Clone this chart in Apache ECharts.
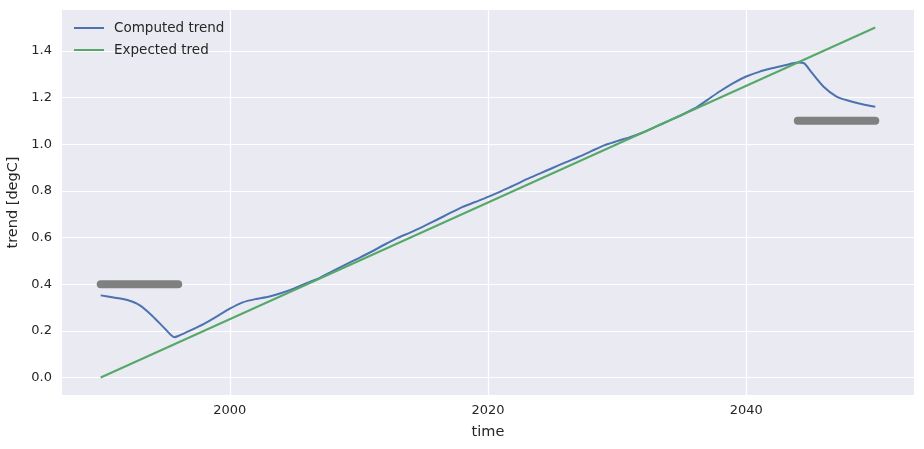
<!DOCTYPE html>
<html lang="en">
<head>
    <meta charset="UTF-8">
    <title>Trend</title>
    <script src="https://cdn.jsdelivr.net/npm/echarts@6.0.0/dist/echarts.min.js"></script>
    <style>
        html, body { margin: 0; padding: 0; background: #fff; }
        #viz { width: 924px; height: 449px; }
    </style>
</head>
<body>
    <div id="viz"></div>
    <script>
        // computed trend
        const computedYears = [1990, 1991, 1992, 1993, 1994, 1995, 1995.7, 1996, 1997, 1998, 1999,
            2000, 2001, 2002, 2003, 2004, 2005, 2006, 2007, 2008, 2009,
            2010, 2011, 2012, 2013, 2014, 2015, 2016, 2017, 2018, 2019,
            2020, 2021, 2022, 2023, 2024, 2025, 2026, 2027, 2028, 2029,
            2030, 2031, 2032, 2033, 2034, 2035, 2036, 2037, 2038, 2039,
            2040, 2041, 2042, 2043, 2044, 2044.5, 2045, 2046, 2047, 2048, 2049, 2050];
        const computedValues = [0.352, 0.343, 0.333, 0.310, 0.264, 0.208, 0.173, 0.178, 0.203, 0.230, 0.262,
            0.295, 0.322, 0.336, 0.346, 0.362, 0.382, 0.405, 0.428, 0.457, 0.485,
            0.512, 0.540, 0.570, 0.598, 0.622, 0.648, 0.675, 0.703, 0.730, 0.752,
            0.774, 0.798, 0.823, 0.850, 0.874, 0.898, 0.922, 0.945, 0.970, 0.995,
            1.013, 1.030, 1.050, 1.075, 1.100, 1.125, 1.153, 1.190, 1.228, 1.262,
            1.290, 1.310, 1.325, 1.338, 1.350, 1.346, 1.312, 1.246, 1.204, 1.185, 1.171, 1.160];

        const expectedYears = [1990, 2050];
        const expectedValues = [0, 1.5];

        // the two grey window bars
        const windowStart = [1990, 1996];
        const windowEnd = [2044, 2050];
        const windowStartValue = 0.4;
        const windowEndValue = 1.1;

        const xTicks = [2000, 2020, 2040];
        const yTicks = [0, 0.2, 0.4, 0.6, 0.8, 1.0, 1.2, 1.4];

        const zip = (xs, ys) => xs.map((x, i) => [x, ys[i]]);
        const font = 'DejaVu Sans';
        const textColor = '#262626';

        const option = {
            animation: false,
            backgroundColor: '#fff',
            textStyle: { fontFamily: font },
            grid: {
                left: 62, right: 10, top: 10, bottom: 54,
                outerBoundsMode: 'none',
                show: true, backgroundColor: '#EAEAF2', borderWidth: 0
            },
            legend: {
                data: ['Computed trend', 'Expected tred'],
                orient: 'vertical',
                left: 69, top: 16,
                icon: 'rect',
                itemWidth: 30, itemHeight: 2,
                itemGap: 8,
                textStyle: { fontFamily: font, fontSize: 13.5, color: textColor, padding: [0, 0, 0, 5] }
            },
            xAxis: {
                type: 'value',
                min: 1987, max: 2053,
                name: 'time',
                nameLocation: 'middle',
                nameGap: 30,
                nameTextStyle: { fontFamily: font, fontSize: 14.5, color: textColor },
                axisLine: { show: false },
                axisTick: { show: false, customValues: xTicks },
                axisLabel: {
                    customValues: xTicks, margin: 9, fontFamily: font, fontSize: 13, color: textColor,
                    formatter: v => String(v)
                },
                splitLine: { show: true, lineStyle: { color: '#fff', width: 1.2 } }
            },
            yAxis: {
                type: 'value',
                min: -0.075, max: 1.575,
                name: 'trend [degC]',
                nameLocation: 'middle',
                nameGap: 38,
                nameTextStyle: { fontFamily: font, fontSize: 14.5, color: textColor },
                axisLine: { show: false },
                axisTick: { show: false, customValues: yTicks },
                axisLabel: {
                    customValues: yTicks, margin: 10, fontFamily: font, fontSize: 13, color: textColor,
                    formatter: v => v.toFixed(1)
                },
                splitLine: { show: true, lineStyle: { color: '#fff', width: 1.2 } }
            },
            series: [
                {
                    name: 'window start',
                    type: 'line',
                    data: windowStart.map(x => [x, windowStartValue]),
                    showSymbol: false,
                    lineStyle: { color: '#808080', width: 8, cap: 'round' },
                    silent: true
                },
                {
                    name: 'window end',
                    type: 'line',
                    data: windowEnd.map(x => [x, windowEndValue]),
                    showSymbol: false,
                    lineStyle: { color: '#808080', width: 8, cap: 'round' },
                    silent: true
                },
                {
                    name: 'Computed trend',
                    type: 'line',
                    data: zip(computedYears, computedValues),
                    showSymbol: false,
                    smooth: 0.25,
                    itemStyle: { color: '#4C72B0' },
                    lineStyle: { color: '#4C72B0', width: 2 }
                },
                {
                    name: 'Expected tred',
                    type: 'line',
                    data: zip(expectedYears, expectedValues),
                    showSymbol: false,
                    itemStyle: { color: '#55A868' },
                    lineStyle: { color: '#55A868', width: 2 }
                }
            ]
        };

        const chart = echarts.init(document.getElementById('viz'), null, { renderer: 'canvas' });
        chart.setOption(option);
        window.onresize = () => chart.resize();
    </script>
</body>
</html>
